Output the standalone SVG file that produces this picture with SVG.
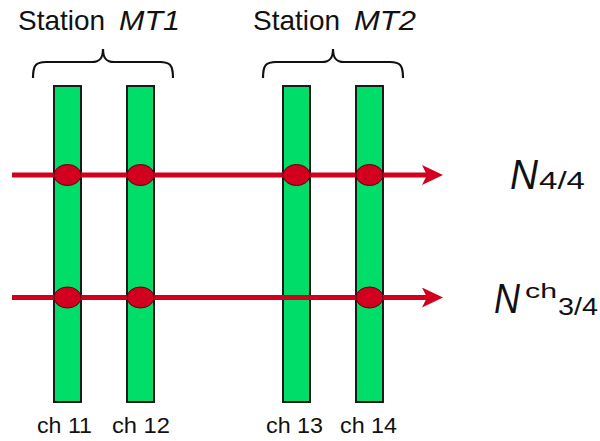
<svg xmlns="http://www.w3.org/2000/svg" width="600" height="441" viewBox="0 0 600 441">
<defs>
<style>
.bar{fill:#00DD69;stroke:#1a1a1a;stroke-width:2}
.brace{fill:none;stroke:#111;stroke-width:2.2}
.line{stroke:#D2001E;stroke-width:5;fill:none}
.dot{fill:#D2001E;stroke:#5a0010;stroke-width:1}
.lbl{font-family:"Liberation Sans",Arial,sans-serif;fill:#111}
</style>
<marker id="arr" markerUnits="userSpaceOnUse" markerWidth="22" markerHeight="20" refX="5" refY="10" orient="auto" viewBox="0 0 22 20">
<path d="M0,0 L21,10 L0,20 L5,10 Z" fill="#D2001E"/>
</marker>
</defs>
<rect width="600" height="441" fill="#fff"/>
<g id="station-mt1">
<text class="lbl" x="18" y="30" font-size="28" textLength="87" lengthAdjust="spacingAndGlyphs">Station</text>
<text class="lbl" x="119" y="30" font-size="28" font-style="italic" textLength="61" lengthAdjust="spacingAndGlyphs">MT1</text>
<path class="brace" d="M33,78 C33,65 36,62 46,62 L92,62 C100,62 103,58 103,49 C103,58 106,62 114,62 L160,62 C170,62 173,65 173,78"/>
</g>
<g id="station-mt2">
<text class="lbl" x="253" y="30" font-size="28" textLength="87" lengthAdjust="spacingAndGlyphs">Station</text>
<text class="lbl" x="354" y="30" font-size="28" font-style="italic" textLength="62" lengthAdjust="spacingAndGlyphs">MT2</text>
<path class="brace" d="M263,78 C263,65 266,62 276,62 L322,62 C330,62 333,58 333,49 C333,58 336,62 344,62 L390,62 C400,62 403,65 403,78"/>
</g>
<g id="ch11"><rect class="bar" x="54" y="86" width="27" height="316"/><text class="lbl" x="37" y="433" font-size="22" textLength="55" lengthAdjust="spacingAndGlyphs">ch 11</text></g>
<g id="ch12"><rect class="bar" x="127" y="86" width="27" height="316"/><text class="lbl" x="112" y="433" font-size="22" textLength="58" lengthAdjust="spacingAndGlyphs">ch 12</text></g>
<g id="ch13"><rect class="bar" x="283" y="86" width="27" height="316"/><text class="lbl" x="266" y="433" font-size="22" textLength="57" lengthAdjust="spacingAndGlyphs">ch 13</text></g>
<g id="ch14"><rect class="bar" x="356" y="86" width="27" height="316"/><text class="lbl" x="340" y="433" font-size="22" textLength="57" lengthAdjust="spacingAndGlyphs">ch 14</text></g>
<g id="connectors">
<line class="line" x1="12" y1="175" x2="427" y2="175" marker-end="url(#arr)"/>
<line class="line" x1="12" y1="297.5" x2="427" y2="297.5" marker-end="url(#arr)"/>
</g>
<g id="hits">
<ellipse class="dot" cx="67.5" cy="175" rx="13.5" ry="10.5"/>
<ellipse class="dot" cx="140.5" cy="175" rx="13.5" ry="10.5"/>
<ellipse class="dot" cx="296.5" cy="175" rx="13.5" ry="10.5"/>
<ellipse class="dot" cx="369.5" cy="175" rx="13.5" ry="10.5"/>
<ellipse class="dot" cx="67.5" cy="297.5" rx="13.5" ry="10.5"/>
<ellipse class="dot" cx="140.5" cy="297.5" rx="13.5" ry="10.5"/>
<ellipse class="dot" cx="369.5" cy="297.5" rx="13.5" ry="10.5"/>
</g>
<g id="label-n44">
<text class="lbl" x="510" y="189" font-size="42" font-style="italic" textLength="28" lengthAdjust="spacingAndGlyphs">N</text>
<text class="lbl" x="539" y="189" font-size="23" textLength="46" lengthAdjust="spacingAndGlyphs">4/4</text>
</g>
<g id="label-nch34">
<text class="lbl" x="494" y="313" font-size="42" font-style="italic" textLength="26" lengthAdjust="spacingAndGlyphs">N</text>
<text class="lbl" x="525" y="298" font-size="21" textLength="32" lengthAdjust="spacingAndGlyphs">ch</text>
<text class="lbl" x="558" y="315" font-size="23" textLength="40" lengthAdjust="spacingAndGlyphs">3/4</text>
</g>
</svg>
